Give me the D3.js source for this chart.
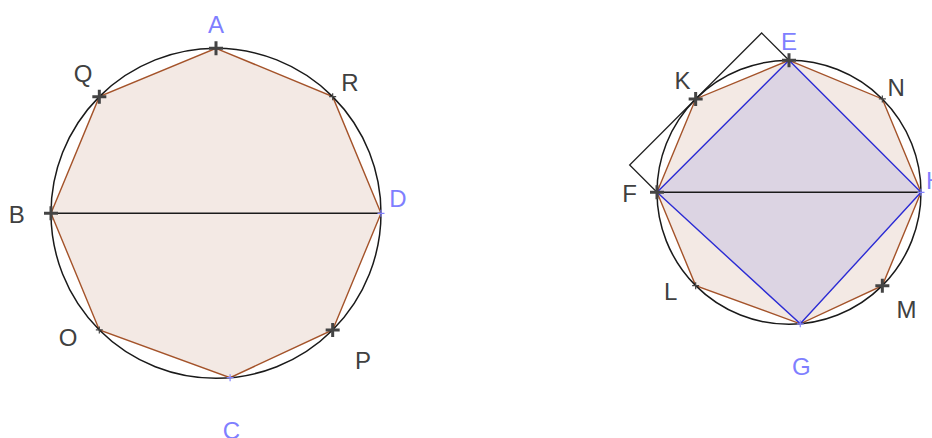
<!DOCTYPE html>
<html><head><meta charset="utf-8">
<script src="https://cdn.jsdelivr.net/npm/d3@7"></script>
<style>html,body{margin:0;padding:0;background:#fff;overflow:hidden}</style>
</head><body>
<svg id="c" width="932" height="438"></svg>
<script>
// Vertex angles (degrees) of the inscribed octagon, going around the circle
const vertexAngles = [90, 45, 0, -45, -85.1, -135, 180, 135];
// Marker style of each vertex: thick dark cross, thin dark tick, small blue tick
const markerKinds = ["thick", "thin", "blue", "thick", "blue", "thin", "thick", "thick"];
// Label positions in units of the radius (relative to the centre)
const labelUX = [0, 0.812, 1.103, 0.891, 0.093, -0.897, -1.208, -0.806];
const labelUY = [1.142, 0.795, 0.09, -0.89, -1.318, -0.753, -0.008, 0.845];
const leftNames = ["A", "R", "D", "P", "C", "O", "B", "Q"];
const rightNames = ["E", "N", "H", "M", "G", "L", "F", "K"];
// Indices of the vertices forming the blue quadrilateral in the right figure
const squareIdx = [0, 2, 4, 6];
// Figures: centre and radius (pixels)
const figures = [
  {names: leftNames, cx: 216, cy: 213.3, r: 165, square: false},
  {names: rightNames, cx: 789, cy: 192.3, r: 132, square: true}
];

const svg = d3.select("#c");
const rad = d => d * Math.PI / 180;

figures.forEach(fig => {
  const x = d3.scaleLinear().domain([-1, 1]).range([fig.cx - fig.r, fig.cx + fig.r]);
  const y = d3.scaleLinear().domain([-1, 1]).range([fig.cy + fig.r, fig.cy - fig.r]);
  const pts = vertexAngles.map(a => [Math.cos(rad(a)), Math.sin(rad(a))]);
  const P = p => [x(p[0]), y(p[1])];
  const g = svg.append("g");
  const line = d3.line().x(d => x(d[0])).y(d => y(d[1]));

  // octagon
  g.append("path").attr("d", line(pts) + "Z")
    .attr("fill", "#f3e9e4").attr("stroke", "#a4532a").attr("stroke-width", 1.4);

  if (fig.square) {
    const sq = squareIdx.map(i => pts[i]);
    g.append("path").attr("d", line(sq) + "Z")
      .attr("fill", "#dcd4e3").attr("stroke", "#2b2bd4").attr("stroke-width", 1.4);
    // rectangle on chord F-E, outer side tangent to circle at K
    const F = pts[6], E = pts[0];
    const k = 1 - Math.cos(rad(45));
    const off = [k * Math.cos(rad(135)), k * Math.sin(rad(135))];
    const rect = [F, [F[0] + off[0], F[1] + off[1]], [E[0] + off[0], E[1] + off[1]], E];
    g.append("path").attr("d", line(rect))
      .attr("fill", "none").attr("stroke", "#222").attr("stroke-width", 1.3);
  }

  // circle
  g.append("circle").attr("cx", x(0)).attr("cy", y(0)).attr("r", x(1) - x(0))
    .attr("fill", "none").attr("stroke", "#1a1a1a").attr("stroke-width", 1.5);

  // diameter B-D
  g.append("path").attr("d", line([pts[6], pts[2]]))
    .attr("stroke", "#1a1a1a").attr("stroke-width", 1.4).attr("fill", "none");

  // markers
  pts.forEach((p, i) => {
    const [px, py] = P(p);
    const kind = markerKinds[i];
    const s = kind === "thick" ? 7 : 3.5;
    const col = kind === "blue" ? "#8585ff" : "#444";
    const w = kind === "thick" ? 3 : 1.2;
    g.append("path").attr("d", `M${px - s},${py}H${px + s}M${px},${py - s}V${py + s}`)
      .attr("stroke", col).attr("stroke-width", w);
  });

  // labels
  fig.names.forEach((n, i) => {
    g.append("text").attr("x", x(labelUX[i])).attr("y", y(labelUY[i]))
      .attr("text-anchor", "middle").attr("dominant-baseline", "central")
      .attr("font-family", "Liberation Sans, Arial, sans-serif").attr("font-size", 24)
      .attr("fill", markerKinds[i] === "blue" || i === 0 ? "#7f7fff" : "#404040")
      .text(n);
  });
});
</script>
</body></html>
